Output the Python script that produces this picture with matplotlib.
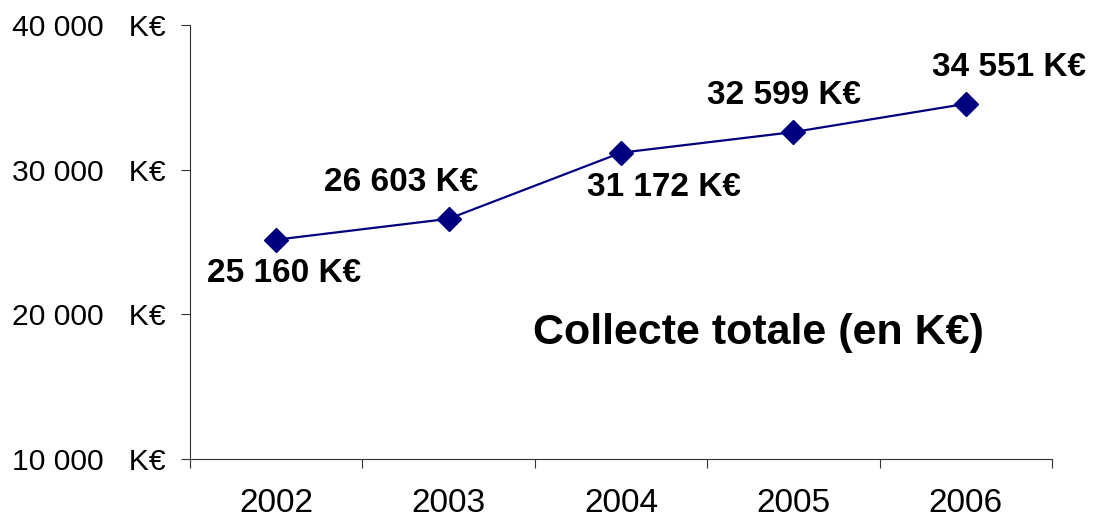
import matplotlib.pyplot as plt
from matplotlib.ticker import FixedLocator, FuncFormatter

# -----------------------
# DATA
years = ['2002', '2003', '2004', '2005', '2006']
collecte = [25160, 26603, 31172, 32599, 34551]
y_ticks = [10000, 20000, 30000, 40000]
title = "Collecte totale (en K€)"

plt.rcParams['font.family'] = ['Liberation Sans', 'DejaVu Sans']

fig = plt.figure(figsize=(11.02, 5.21), dpi=100)
ax = fig.add_axes([0.1724, 0.119, 0.7822, 0.833])

x = list(range(len(years)))
ax.plot(x, collecte, color='#000080', linewidth=1.6,
        marker='D', markersize=12.5, markerfacecolor='#000080',
        markeredgecolor='#000080', zorder=3)

# value labels (offsets in pixels from each point)
offsets = [(8, -34), (-47, 36), (43, -35), (-9, 37), (43, 36)]
def fmt(v):
    return f"{v:,.0f}".replace(',', ' ')

for i, v in enumerate(collecte):
    ax.annotate(fmt(v) + " K€", (x[i], v), xytext=offsets[i],
                textcoords='offset pixels', ha='center', va='center',
                fontsize=24, fontweight='bold', color='black')

ax.text(0.66, 0.29, title, transform=ax.transAxes, ha='center',
        va='center', fontsize=31, fontweight='bold')

# axes
ax.set_xlim(-0.5, len(years) - 0.5)
ax.set_ylim(y_ticks[0], y_ticks[-1])
ax.set_yticks(y_ticks)
ax.yaxis.set_major_formatter(FuncFormatter(lambda v, p: fmt(v) + "   K€"))

ax.xaxis.set_major_locator(FixedLocator([i - 0.5 for i in range(len(years) + 1)]))
ax.xaxis.set_major_formatter(FuncFormatter(lambda v, p: ''))
ax.xaxis.set_minor_locator(FixedLocator(x))
ax.set_xticklabels(years, minor=True)

ax.tick_params(axis='y', which='major', length=6.5, width=0.8,
               direction='out', pad=11, labelsize=21.7, colors='#333333',
               labelcolor='black')
ax.tick_params(axis='x', which='major', length=6.5, width=0.8,
               direction='out', colors='#333333')
ax.tick_params(axis='x', which='minor', length=0, pad=21, labelsize=24)

for s in ['top', 'right']:
    ax.spines[s].set_visible(False)
for s in ['left', 'bottom']:
    ax.spines[s].set_color('#333333')
    ax.spines[s].set_linewidth(0.8)

fig.savefig('out.png', dpi=100)
